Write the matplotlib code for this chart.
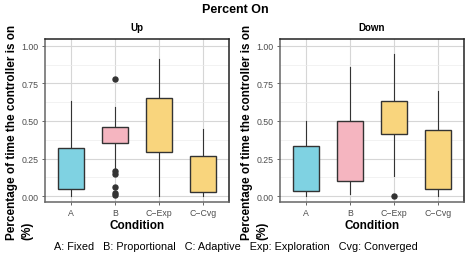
import matplotlib
matplotlib.use("Agg")
import matplotlib.pyplot as plt
from matplotlib.ticker import MultipleLocator

plt.rcParams['font.family'] = ['Liberation Sans', 'DejaVu Sans']

categories = ["A", "B", "C\u2212Exp", "C\u2212Cvg"]
colors = ["#7FD2E2", "#F5B5C0", "#F9D57D"]
cat_colors = [colors[0], colors[1], colors[2], colors[2]]

# Up panel box statistics
up_whislo = [0.0, 0.19, 0.0, 0.0]
up_q1 = [0.048, 0.352, 0.292, 0.026]
up_med = [0.143, 0.413, 0.476, 0.141]
up_q3 = [0.32, 0.458, 0.655, 0.266]
up_whishi = [0.635, 0.59, 0.912, 0.45]
up_fliers = [[], [0.779, 0.17, 0.148, 0.06, 0.022, 0.011], [], []]

# Down panel box statistics
down_whislo = [0.0, 0.015, 0.137, 0.0]
down_q1 = [0.037, 0.10, 0.413, 0.048]
down_med = [0.07, 0.287, 0.562, 0.07]
down_q3 = [0.332, 0.498, 0.635, 0.44]
down_whishi = [0.50, 0.857, 0.945, 0.70]
down_fliers = [[], [], [0.0], []]

panels = [
    ("Up", up_whislo, up_q1, up_med, up_q3, up_whishi, up_fliers),
    ("Down", down_whislo, down_q1, down_med, down_q3, down_whishi, down_fliers),
]

W, H = 471, 255
fig = plt.figure(figsize=(W / 100, H / 100), dpi=100)

def fx(px):
    return px / W

def fy(py):
    return 1 - py / H

ax_lefts = [45, 280]
ax_w = 184
ax_top, ax_bot = 40, 203

for i, (name, wl, q1, med, q3, wh, fl) in enumerate(panels):
    left = ax_lefts[i]
    ax = fig.add_axes([fx(left), fy(ax_bot), ax_w / W, (ax_bot - ax_top) / H])
    stats = []
    for j in range(len(categories)):
        stats.append(dict(whislo=wl[j], q1=q1[j], med=med[j], q3=q3[j],
                          whishi=wh[j], fliers=fl[j], label=categories[j]))
    pos = list(range(1, len(categories) + 1))
    bp = ax.bxp(stats, positions=pos, widths=0.6, patch_artist=True,
                showcaps=False,
                boxprops=dict(edgecolor="#333333", linewidth=1.0),
                medianprops=dict(color="#333333", linewidth=1.8),
                whiskerprops=dict(color="#333333", linewidth=0.8),
                flierprops=dict(marker="o", markerfacecolor="#333333",
                                markeredgecolor="#333333", markersize=3.6))
    for patch, c in zip(bp["boxes"], cat_colors):
        patch.set_facecolor(c)
    for b in bp["boxes"]:
        b.set_zorder(3)
    ax.set_xlim(0.4, 4.6)
    ax.set_ylim(-0.038, 1.0445)
    ax.yaxis.set_minor_locator(MultipleLocator(0.125))
    ax.set_yticks([0, 0.25, 0.5, 0.75, 1.0])
    ax.set_yticklabels(["0.00", "0.25", "0.50", "0.75", "1.00"])
    ax.set_xticks(pos)
    ax.set_xticklabels(categories)
    ax.grid(True, which="major", color="#D6D6D6", linewidth=0.8)
    ax.grid(True, which="minor", axis="y", color="#EDEDED", linewidth=0.5)
    ax.set_axisbelow(True)
    ax.tick_params(axis="both", which="major", labelsize=6.3, labelcolor="#4D4D4D",
                   color="#4D4D4D", length=2.5, width=0.6, pad=2)
    ax.tick_params(axis="both", which="minor", length=0)
    for s in ["top", "right"]:
        ax.spines[s].set_color("#222222")
        ax.spines[s].set_linewidth(1.1)
    for s in ["left", "bottom"]:
        ax.spines[s].set_color("#666666")
        ax.spines[s].set_linewidth(1.1)
    ax.set_xlabel("Condition", fontsize=8.5, fontweight="bold", labelpad=1)
    fig.text(fx(left + ax_w / 2), fy(28), name, fontsize=7, fontweight="bold",
             ha="center", va="center")
    fig.text(fx(left - 33), fy(240), "Percentage of time the controller is on",
             rotation=90, fontsize=8.5, fontweight="bold", ha="center", va="bottom")
    fig.text(fx(left - 18), fy(240), "(%)",
             rotation=90, fontsize=8.5, fontweight="bold", ha="center", va="bottom")

fig.text(fx(235), fy(10), "Percent On", fontsize=9, fontweight="bold",
         ha="center", va="center")
fig.text(fx(236), fy(247),
         "A: Fixed   B: Proportional   C: Adaptive   Exp: Exploration   Cvg: Converged",
         fontsize=7.8, ha="center", va="center")

fig.savefig("out.png", dpi=100)
